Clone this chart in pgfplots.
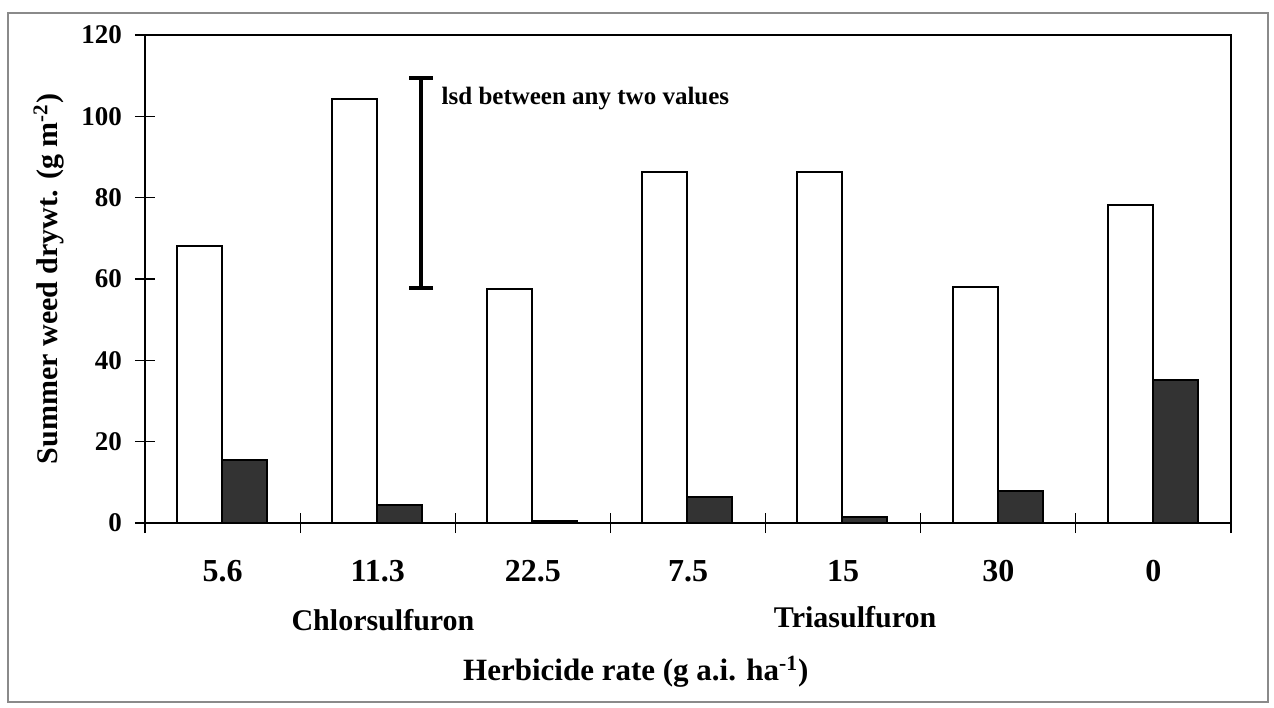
\documentclass[border=0pt]{standalone}
\usepackage{pgfplots}
\pgfplotsset{compat=1.18}
\usepackage{fontspec}
\setmainfont{Liberation Serif}
\definecolor{darkbar}{HTML}{333333}
\definecolor{framegray}{HTML}{8A8A8A}

\begin{document}
\begin{tikzpicture}
\begin{axis}[
  scale only axis,
  width=543pt, height=244pt,
  xmin=-0.5, xmax=6.5, ymin=0, ymax=120,
  clip=false,
  axis line style={line width=1pt},
  ytick={0,20,...,120},
  % group separators on the x axis
  xtick={-0.5,0.5,...,6.5},
  xticklabels={},
  % treatment rates under each group
  extra x ticks={0,...,6},
  extra x tick labels={5.6,11.3,22.5,7.5,15,30,0},
  extra x tick style={major tick length=0pt},
  xtick pos=bottom, ytick pos=left,
  tick align=center,
  major tick length=10pt,
  every tick/.style={line width=0.6pt, black},
  /pgf/number format/assume math mode=true,
  yticklabel style={font=\fontsize{13.5}{15}\selectfont\bfseries, xshift=-3pt},
  xticklabel style={font=\fontsize{16}{18}\selectfont\bfseries, yshift=-15pt},
  xlabel={Herbicide rate (g a.i. ha\textsuperscript{-1})},
  ylabel={Summer weed drywt. (g m\textsuperscript{-2})},
  every axis x label/.style={at={(axis description cs:0.452,0)}, yshift=-74.5pt, anchor=center, font=\fontsize{15.5}{17}\selectfont\bfseries},
  every axis y label/.style={at={(axis description cs:0,0.5)}, xshift=-48pt, rotate=90, anchor=center, font=\fontsize{15}{17}\selectfont\bfseries},
]
% no residual application
\addplot[ybar, bar width=0.29, draw=black, line width=1pt, fill=white, bar shift=-0.15]
  coordinates {(0,68.2) (1,104.3) (2,57.6) (3,86.3) (4,86.3) (5,58.1) (6,78.2)};
% residual application
\addplot[ybar, bar width=0.29, draw=black, line width=1pt, fill=darkbar, bar shift=0.14]
  coordinates {(0,15.5) (1,4.5) (2,0.5) (3,6.4) (4,1.5) (5,7.9) (6,35.2)};
% lsd bar
\addplot[draw=none, mark=none, forget plot,
  error bars/.cd, y dir=both, y explicit,
  error bar style={draw=black, line width=2pt},
  error mark options={rotate=90, mark size=6pt, draw=black, line width=2pt}]
  coordinates {(1.28,83.6) +- (0,25.8)};
\node[anchor=west, font=\fontsize{12.5}{14}\selectfont\bfseries, inner sep=0pt]
  at (axis cs:1.41,104.3) {lsd between any two values};
\node[font=\fontsize{15}{17}\selectfont\bfseries, yshift=-48.5pt] at (axis cs:1.034,0) {Chlorsulfuron};
\node[font=\fontsize{15}{17}\selectfont\bfseries, yshift=-47pt] at (axis cs:4.077,0) {Triasulfuron};
\end{axis}
\draw[framegray, line width=0.8pt]
  ([shift={(-68.5pt,-89.5pt)}]current axis.south west) rectangle
  ([shift={(561.5pt,255pt)}]current axis.south west);
\pgfresetboundingbox
\useasboundingbox ([shift={(-72.5pt,-92pt)}]current axis.south west) rectangle ([shift={(564.5pt,261.5pt)}]current axis.south west);
\end{tikzpicture}
\end{document}
